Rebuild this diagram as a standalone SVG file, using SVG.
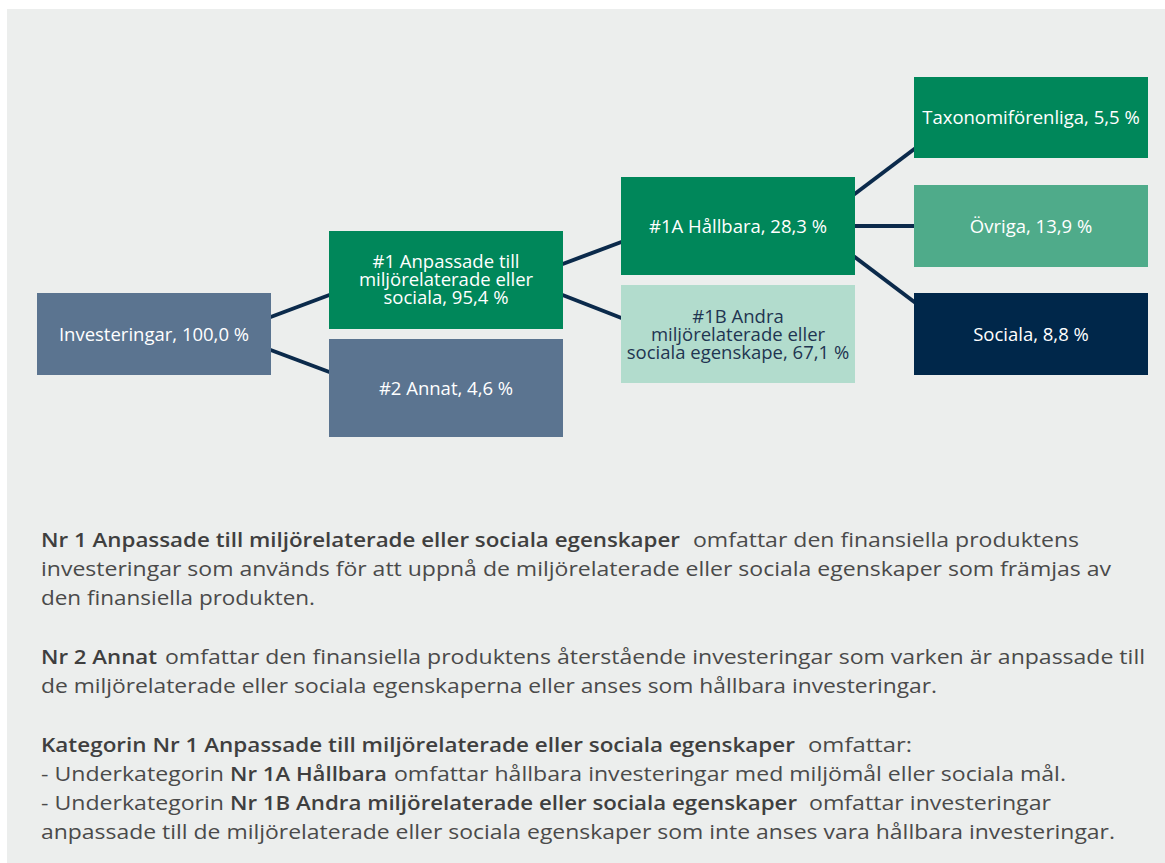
<svg xmlns="http://www.w3.org/2000/svg" width="1165" height="863" viewBox="0 0 1165 863">
<style>
.bx{font-family:"Open Sans","Liberation Sans",sans-serif;font-size:18.5px;text-anchor:middle;fill:#ffffff}
.dk{fill:#1f3551}
.b{font-family:"Open Sans","Liberation Sans",sans-serif;font-size:20px;fill:#4a4a4a}
.bd{font-weight:600;fill:#3f3f3f}
.cn{stroke:#0b2a4b;stroke-width:4;fill:none}
</style>
<rect x="0" y="0" width="1165" height="863" fill="#ffffff"/>
<rect x="7" y="9" width="1158" height="854" fill="#eceeed"/>
<g id="connectors">
<line class="cn" x1="268" y1="318" x2="332" y2="294"/>
<line class="cn" x1="268" y1="349" x2="332" y2="373"/>
<line class="cn" x1="560" y1="265" x2="624" y2="241"/>
<line class="cn" x1="560" y1="294" x2="624" y2="319"/>
<line class="cn" x1="852" y1="196" x2="917" y2="147"/>
<line class="cn" x1="852" y1="226" x2="917" y2="226"/>
<line class="cn" x1="852" y1="255" x2="917" y2="304"/>
</g>
<g id="n-investeringar">
<rect x="37" y="293" width="234" height="82" fill="#5b7490"/>
<text class="bx" x="154" y="340.5">Investeringar, 100,0 %</text>
</g>
<g id="n-anpassade">
<rect x="329" y="231" width="234" height="98" fill="#00875a"/>
<text class="bx"><tspan x="446" y="268">#1 Anpassade till</tspan><tspan x="446" y="286">miljörelaterade eller</tspan><tspan x="446" y="304">sociala, 95,4 %</tspan></text>
</g>
<g id="n-annat">
<rect x="329" y="339" width="234" height="98" fill="#5b7490"/>
<text class="bx" x="446" y="394.5">#2 Annat, 4,6 %</text>
</g>
<g id="n-hallbara">
<rect x="621" y="177" width="234" height="98" fill="#00875a"/>
<text class="bx" x="738" y="232.5">#1A Hållbara, 28,3 %</text>
</g>
<g id="n-andra">
<rect x="621" y="285" width="234" height="98" fill="#b2dccd"/>
<text class="bx dk"><tspan x="738" y="323">#1B Andra</tspan><tspan x="738" y="341">miljörelaterade eller</tspan><tspan x="738" y="358.5">sociala egenskape, 67,1 %</tspan></text>
</g>
<g id="n-taxonomi">
<rect x="914" y="77" width="234" height="81" fill="#00875a"/>
<text class="bx" x="1031" y="124">Taxonomiförenliga, 5,5 %</text>
</g>
<g id="n-ovriga">
<rect x="914" y="185" width="234" height="82" fill="#4fab8a"/>
<text class="bx" x="1031" y="232.5">Övriga, 13,9 %</text>
</g>
<g id="n-sociala">
<rect x="914" y="293" width="234" height="82" fill="#00274a"/>
<text class="bx" x="1031" y="340.5">Sociala, 8,8 %</text>
</g>
<g id="legend-text">
<text class="b bd" x="41" y="546.5" textLength="639" lengthAdjust="spacingAndGlyphs">Nr 1 Anpassade till miljörelaterade eller sociala egenskaper</text>
<text class="b" x="693" y="546.5" textLength="386" lengthAdjust="spacingAndGlyphs">omfattar den finansiella produktens</text>
<text class="b" x="41" y="575.5" textLength="1070" lengthAdjust="spacingAndGlyphs">investeringar som används för att uppnå de miljörelaterade eller sociala egenskaper som främjas av</text>
<text class="b" x="41" y="604.5" textLength="274" lengthAdjust="spacingAndGlyphs">den finansiella produkten.</text>
<text class="b bd" x="41" y="664" textLength="116" lengthAdjust="spacingAndGlyphs">Nr 2 Annat</text>
<text class="b" x="165" y="664" textLength="980" lengthAdjust="spacingAndGlyphs">omfattar den finansiella produktens återstående investeringar som varken är anpassade till</text>
<text class="b" x="41" y="693" textLength="896" lengthAdjust="spacingAndGlyphs">de miljörelaterade eller sociala egenskaperna eller anses som hållbara investeringar.</text>
<text class="b bd" x="41" y="752" textLength="754" lengthAdjust="spacingAndGlyphs">Kategorin Nr 1 Anpassade till miljörelaterade eller sociala egenskaper</text>
<text class="b" x="808" y="752" textLength="104" lengthAdjust="spacingAndGlyphs">omfattar:</text>
<text class="b" x="41" y="781" textLength="183" lengthAdjust="spacingAndGlyphs">- Underkategorin</text>
<text class="b bd" x="230" y="781" textLength="157" lengthAdjust="spacingAndGlyphs">Nr 1A Hållbara</text>
<text class="b" x="394" y="781" textLength="672" lengthAdjust="spacingAndGlyphs">omfattar hållbara investeringar med miljömål eller sociala mål.</text>
<text class="b" x="41" y="810" textLength="183" lengthAdjust="spacingAndGlyphs">- Underkategorin</text>
<text class="b bd" x="230" y="810" textLength="567" lengthAdjust="spacingAndGlyphs">Nr 1B Andra miljörelaterade eller sociala egenskaper</text>
<text class="b" x="809" y="810" textLength="242" lengthAdjust="spacingAndGlyphs">omfattar investeringar</text>
<text class="b" x="41" y="839" textLength="1074" lengthAdjust="spacingAndGlyphs">anpassade till de miljörelaterade eller sociala egenskaper som inte anses vara hållbara investeringar.</text>
</g>
</svg>
